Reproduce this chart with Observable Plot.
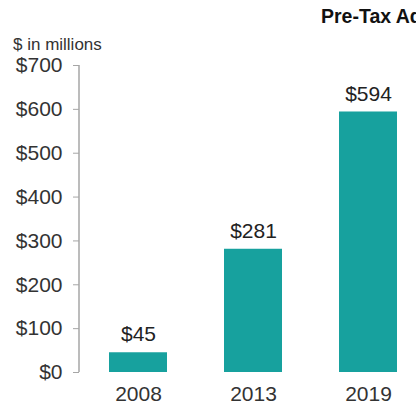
<!DOCTYPE html>
<html>
<head>
<meta charset="utf-8">
<script src="https://cdn.jsdelivr.net/npm/d3@7"></script>
<script src="https://cdn.jsdelivr.net/npm/@observablehq/plot@0.6"></script>
<style>
  html, body { margin: 0; padding: 0; background: #fff; overflow: hidden; }
  #wrap { position: relative; width: 416px; height: 413px; overflow: hidden; font-family: "Liberation Sans", Arial, sans-serif; }
  #title { position: absolute; left: 321px; top: 5px; font-size: 19.5px; font-weight: bold; color: #111; white-space: nowrap; }
  #unit { position: absolute; left: 13px; top: 35px; font-size: 17px; color: #333; white-space: nowrap; }
  #chart { position: absolute; left: 0; top: 0; }
</style>
</head>
<body>
<div id="wrap">
  <div id="chart"></div>
  <div id="title">Pre-Tax Adjusted Earnings</div>
  <div id="unit">$ in millions</div>
</div>
<script>
const years = ["2008", "2013", "2019"];
const values = [45, 281, 594];
const yTicks = [0, 100, 200, 300, 400, 500, 600, 700];

const data = years.map((year, i) => ({year, value: values[i]}));
const teal = "#17a19e";

const yAxisLine = (index, scales, values, dimensions) => {
  const x = dimensions.marginLeft;
  return d3.create("svg:line")
    .attr("x1", x).attr("x2", x)
    .attr("y1", scales.y(700)).attr("y2", scales.y(0))
    .attr("stroke", "#a6a6a6")
    .attr("stroke-width", 1.5)
    .node();
};

const plot = Plot.plot({
  width: 416,
  height: 413,
  marginTop: 65,
  marginBottom: 41,
  marginLeft: 79,
  marginRight: 0,
  style: { fontFamily: "'Liberation Sans', Arial, sans-serif", background: "#fff", overflow: "visible" },
  x: { domain: years, range: [80, 425], paddingInner: 0.5, paddingOuter: 0.25 },
  y: { domain: [0, 700] },
  marks: [
    Plot.barY(data, { x: "year", y: "value", fill: teal }),
    Plot.ruleY([0], { stroke: "#a6a6a6", strokeWidth: 1.5, x1: 73, x2: 416 }),
    yAxisLine,
    Plot.axisY({
      ticks: yTicks,
      tickFormat: d => "$" + d,
      tickSize: 6,
      tickPadding: 11,
      stroke: "#a6a6a6",
      fill: "#333",
      fontSize: 21,
      label: null
    }),
    Plot.axisX({
      tickSize: 0,
      tickPadding: 14,
      fill: "#333",
      fontSize: 21,
      label: null
    }),
    Plot.text(data, {
      x: "year",
      y: "value",
      text: d => "$" + d.value,
      dy: -18,
      fill: "#222",
      fontSize: 21
    })
  ]
});
document.getElementById("chart").appendChild(plot);
</script>
</body>
</html>
